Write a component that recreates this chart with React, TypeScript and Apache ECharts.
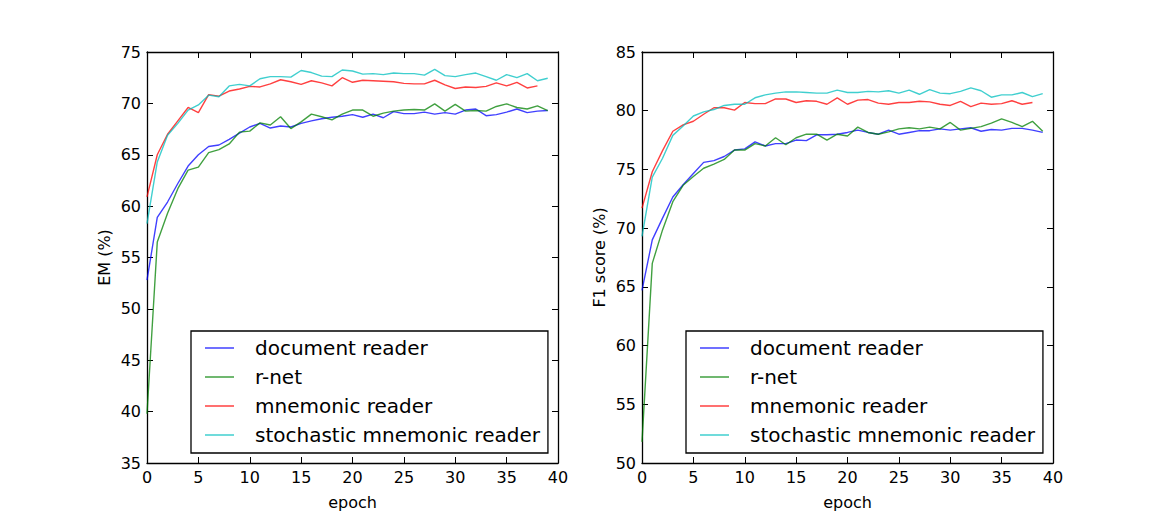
import React, { useEffect, useRef } from "react";
import * as echarts from "echarts";

const seriesNames = ["document reader", "r-net", "mnemonic reader", "stochastic mnemonic reader"];
const seriesColors = ["rgba(0,0,255,0.75)", "rgba(0,128,0,0.75)", "rgba(255,0,0,0.75)", "rgba(0,191,191,0.75)"];

const emDocReader = [52.8, 58.9, 60.4, 62.2, 63.9, 65.0, 65.8, 65.95, 66.5, 67.1, 67.7, 68.05, 67.6, 67.8, 67.7, 68.05, 68.3, 68.5, 68.65, 68.75, 68.9, 68.65, 68.95, 68.6, 69.2, 69.0, 69.0, 69.15, 68.95, 69.1, 68.95, 69.35, 69.45, 68.8, 68.9, 69.15, 69.45, 69.1, 69.25, 69.3];
const emRNet = [39.8, 56.5, 59.3, 61.7, 63.5, 63.8, 65.2, 65.5, 66.05, 67.2, 67.3, 68.1, 67.9, 68.7, 67.55, 68.2, 68.95, 68.7, 68.4, 68.95, 69.35, 69.35, 68.75, 69.05, 69.25, 69.35, 69.4, 69.35, 69.95, 69.25, 69.9, 69.25, 69.3, 69.25, 69.7, 69.95, 69.6, 69.45, 69.75, 69.3];
const emMnemonic = [60.9, 65.0, 67.0, 68.3, 69.6, 69.1, 70.85, 70.7, 71.2, 71.4, 71.65, 71.6, 71.9, 72.3, 72.1, 71.85, 72.2, 72.0, 71.7, 72.5, 72.05, 72.25, 72.2, 72.15, 72.1, 71.95, 71.9, 71.9, 72.25, 71.8, 71.45, 71.6, 71.55, 71.65, 72.0, 71.7, 72.05, 71.5, 71.7];
const emStochastic = [58.3, 64.3, 66.9, 68.05, 69.35, 69.85, 70.8, 70.65, 71.7, 71.85, 71.7, 72.4, 72.6, 72.6, 72.55, 73.2, 73.0, 72.65, 72.6, 73.25, 73.15, 72.85, 72.9, 72.8, 72.95, 72.9, 72.9, 72.75, 73.3, 72.7, 72.6, 72.8, 72.95, 72.6, 72.25, 72.8, 72.5, 72.9, 72.2, 72.45];

const f1DocReader = [64.7, 69.0, 70.85, 72.65, 73.7, 74.65, 75.6, 75.75, 76.1, 76.65, 76.75, 77.35, 77.0, 77.2, 77.2, 77.5, 77.45, 77.95, 77.95, 78.0, 78.15, 78.35, 78.15, 78.0, 78.35, 78.0, 78.15, 78.3, 78.3, 78.45, 78.35, 78.45, 78.55, 78.25, 78.4, 78.35, 78.5, 78.5, 78.35, 78.15];
const f1RNet = [51.8, 67.0, 69.85, 72.25, 73.65, 74.4, 75.1, 75.45, 75.85, 76.65, 76.65, 77.2, 77.0, 77.7, 77.1, 77.7, 78.0, 78.0, 77.5, 78.0, 77.85, 78.6, 78.15, 78.0, 78.2, 78.45, 78.55, 78.45, 78.6, 78.45, 79.0, 78.35, 78.5, 78.65, 78.95, 79.3, 79.0, 78.65, 79.1, 78.25];
const f1Mnemonic = [71.7, 74.8, 76.6, 78.25, 78.8, 79.1, 79.7, 80.25, 80.25, 80.05, 80.7, 80.6, 80.6, 81.0, 81.0, 80.7, 80.85, 80.8, 80.55, 81.1, 80.55, 80.9, 80.95, 80.65, 80.55, 80.7, 80.7, 80.8, 80.75, 80.55, 80.45, 80.8, 80.35, 80.65, 80.55, 80.6, 80.85, 80.55, 80.7];
const f1Stochastic = [69.3, 74.35, 75.95, 77.9, 78.7, 79.55, 79.9, 80.1, 80.45, 80.55, 80.55, 81.1, 81.35, 81.5, 81.6, 81.6, 81.55, 81.5, 81.5, 81.75, 81.55, 81.55, 81.65, 81.6, 81.7, 81.5, 81.75, 81.4, 81.8, 81.5, 81.45, 81.65, 81.95, 81.7, 81.15, 81.35, 81.35, 81.55, 81.2, 81.45];

const emAxis = { min: 35, max: 75, interval: 5, name: "EM (%)" };
const f1Axis = { min: 50, max: 85, interval: 5, name: "F1 score (%)" };
const epochAxis = { min: 0, max: 40, interval: 5, name: "epoch" };

const FONT = "DejaVu Sans";

export default function App() {
  const ref = useRef<HTMLDivElement>(null);
  useEffect(() => {
    if (!ref.current) return;
    const chart = echarts.init(ref.current, null, { renderer: "svg" });

    const grids = [
      { left: 147, top: 52, width: 411, height: 411 },
      { left: 642, top: 52, width: 411, height: 411 },
    ];
    const lineStyle = { color: "#000", width: 1.3 };
    const tick = { show: true, inside: true, length: 6, lineStyle: { color: "#000", width: 1 } };

    const xAxes: any[] = [];
    const yAxes: any[] = [];
    [0, 1].forEach((g) => {
      xAxes.push({
        type: "value", gridIndex: g, position: "bottom",
        min: epochAxis.min, max: epochAxis.max, interval: epochAxis.interval,
        name: epochAxis.name, nameLocation: "middle", nameGap: 31,
        nameTextStyle: { fontFamily: FONT, fontSize: 16, color: "#000" },
        axisLine: { show: true, onZero: false, lineStyle },
        axisTick: tick,
        axisLabel: { fontFamily: FONT, fontSize: 16, color: "#000", margin: 6 },
        splitLine: { show: false },
      });
      xAxes.push({
        type: "value", gridIndex: g, position: "top",
        min: epochAxis.min, max: epochAxis.max, interval: epochAxis.interval,
        axisLine: { show: true, onZero: false, lineStyle },
        axisTick: tick,
        axisLabel: { show: false },
        splitLine: { show: false },
      });
      const ya = g === 0 ? emAxis : f1Axis;
      yAxes.push({
        type: "value", gridIndex: g, position: "left",
        min: ya.min, max: ya.max, interval: ya.interval,
        name: ya.name, nameLocation: "middle", nameGap: 35,
        nameTextStyle: { fontFamily: FONT, fontSize: 16, color: "#000" },
        axisLine: { show: true, onZero: false, lineStyle },
        axisTick: tick,
        axisLabel: { fontFamily: FONT, fontSize: 16, color: "#000", margin: 6 },
        splitLine: { show: false },
      });
      yAxes.push({
        type: "value", gridIndex: g, position: "right",
        min: ya.min, max: ya.max, interval: ya.interval,
        axisLine: { show: true, onZero: false, lineStyle },
        axisTick: tick,
        axisLabel: { show: false },
        splitLine: { show: false },
      });
    });

    const emData = [emDocReader, emRNet, emMnemonic, emStochastic];
    const f1Data = [f1DocReader, f1RNet, f1Mnemonic, f1Stochastic];
    const series: any[] = [];
    [emData, f1Data].forEach((set, g) => {
      set.forEach((vals, i) => {
        series.push({
          type: "line",
          name: seriesNames[i],
          xAxisIndex: g * 2,
          yAxisIndex: g * 2,
          data: vals.map((v, k) => [k, v]),
          symbol: "none",
          showSymbol: false,
          lineStyle: { color: seriesColors[i], width: 1.4 },
          itemStyle: { color: seriesColors[i] },
          z: 2 + i,
        });
      });
    });

    const legendBase = {
      orient: "vertical",
      top: 331,
      data: seriesNames.map((n, i) => ({ name: n, icon: "rect", itemStyle: { color: seriesColors[i] } })),
      selectedMode: false,
      itemWidth: 29,
      itemHeight: 1.5,
      itemGap: 9,
      padding: [7, 8, 8, 14],
      borderColor: "#000",
      borderWidth: 1.3,
      backgroundColor: "#fff",
      textStyle: { fontFamily: FONT, fontSize: 20, color: "#000", lineHeight: 20, padding: [0, 0, 0, 16] },
    };

    chart.setOption({
      animation: false,
      backgroundColor: "#fff",
      grid: grids,
      xAxis: xAxes,
      yAxis: yAxes,
      legend: [
        { ...legendBase, left: 191 },
        { ...legendBase, left: 686 },
      ],
      series,
    });
    return () => chart.dispose();
  }, []);

  return (
    <div
      ref={ref}
      style={{ position: "fixed", left: 0, top: 0, width: 1171, height: 515, background: "#fff" }}
    />
  );
}
